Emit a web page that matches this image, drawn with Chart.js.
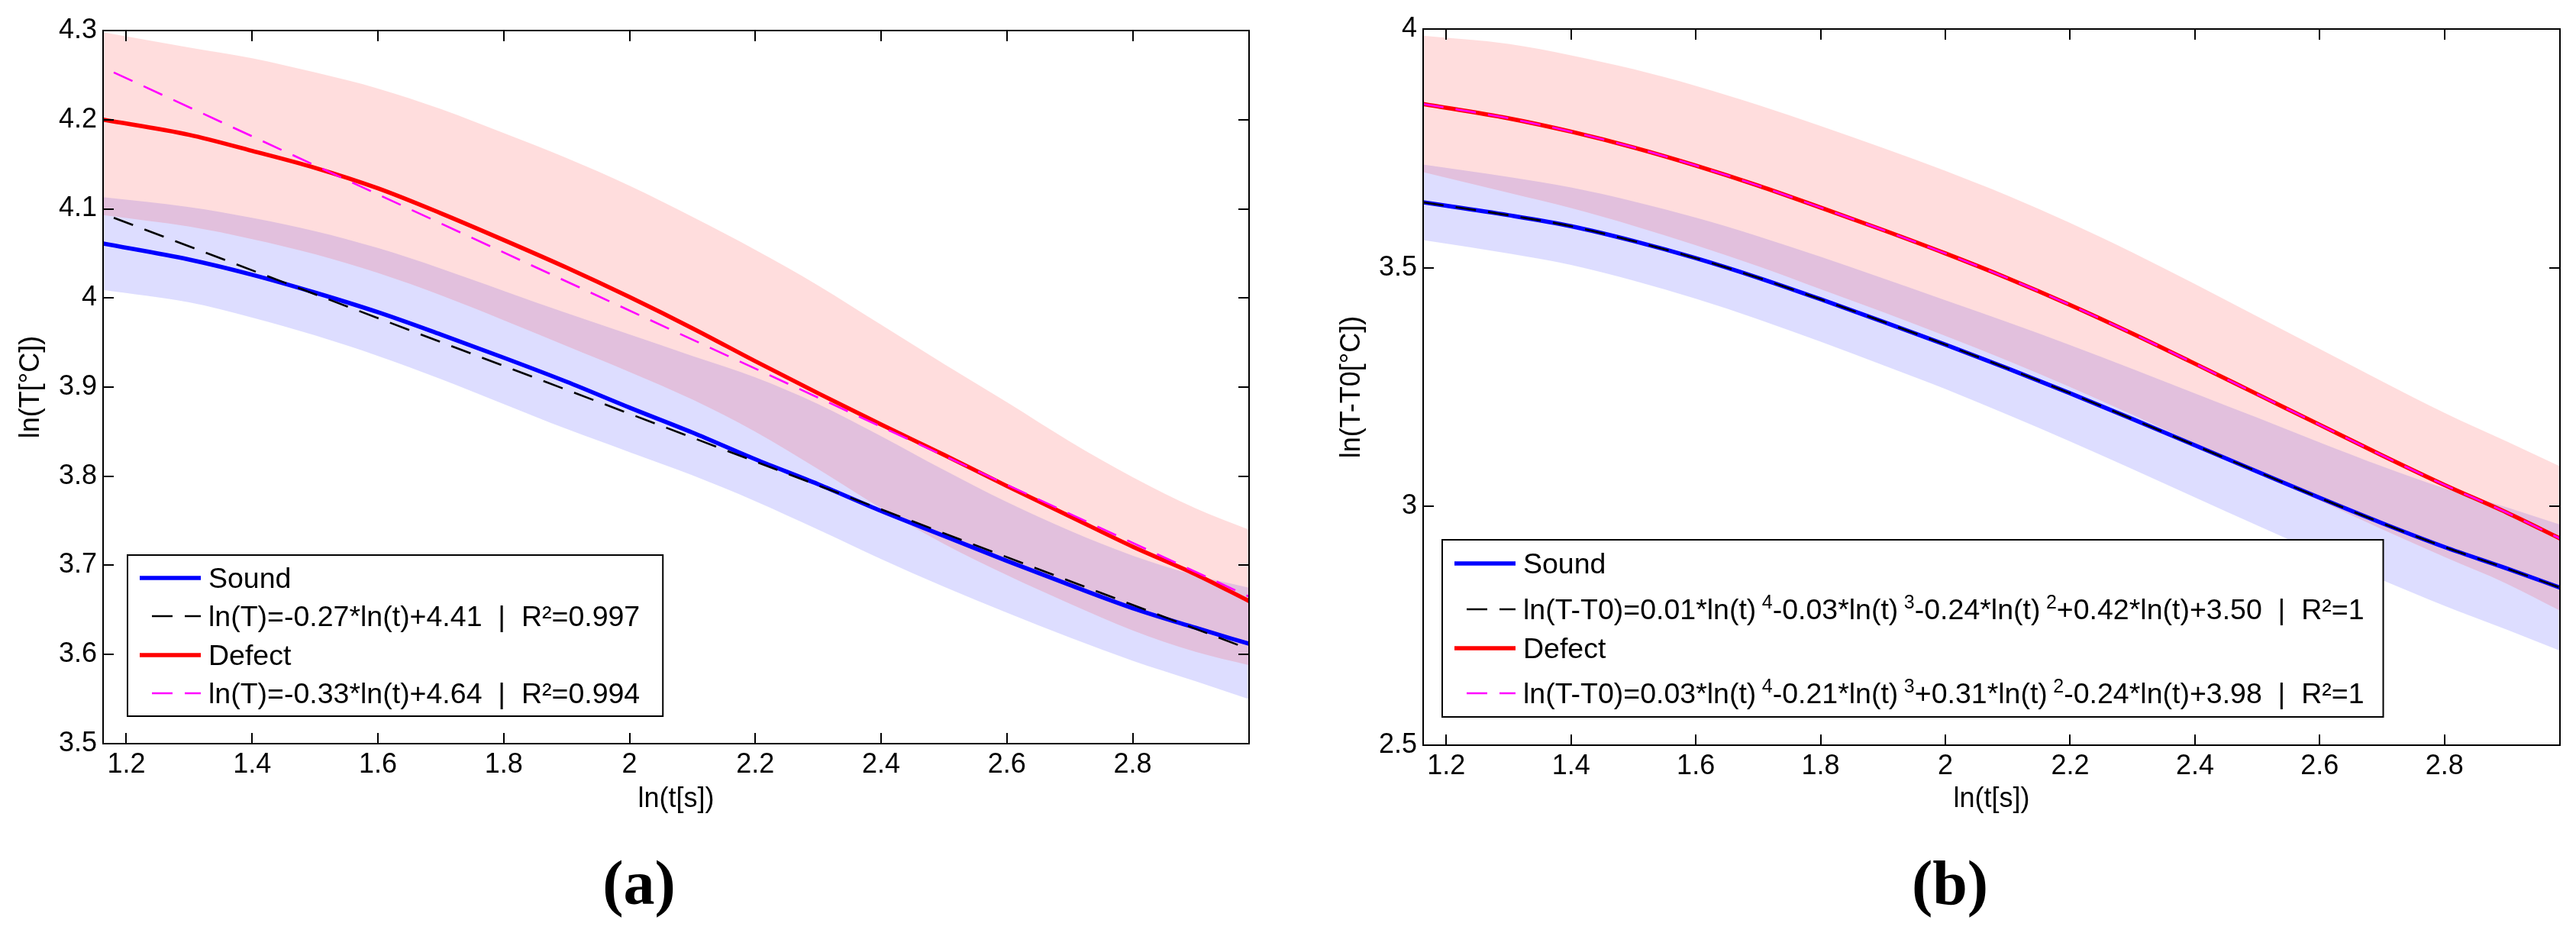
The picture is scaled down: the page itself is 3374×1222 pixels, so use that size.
<!DOCTYPE html>
<html>
<head>
<meta charset="utf-8">
<script src="https://cdn.jsdelivr.net/npm/chart.js@4.4.1/dist/chart.umd.min.js"></script>
<style>
  html, body { margin: 0; padding: 0; background: #fff; width: 3374px; height: 1222px; overflow: hidden; }
  canvas { position: absolute; top: 0; }
  #chart-a { left: 0; }
  #chart-b { left: 1690px; }
  .tag { position: absolute; top: 1157px; transform: translate(-50%, -50%); font: bold 82px "Liberation Serif", "Times New Roman", serif; color: #000; }
</style>
</head>
<body>
<canvas id="chart-a" width="1690" height="1222"></canvas>
<canvas id="chart-b" width="1684" height="1222"></canvas>
<div class="tag" style="left: 837px">(a)</div>
<div class="tag" style="left: 2554px">(b)</div>
<script>
const lnTime = [1.163, 1.3, 1.4, 1.5, 1.6, 1.7, 1.8, 1.9, 2.0, 2.1, 2.2, 2.3, 2.4, 2.5, 2.6, 2.7, 2.8, 2.9, 2.985]
const xTicks = [1.2, 1.4, 1.6, 1.8, 2, 2.2, 2.4, 2.6, 2.8]

// (a) ln(T)
const yTicksA = [3.5, 3.6, 3.7, 3.8, 3.9, 4, 4.1, 4.2, 4.3]
const soundA = [4.061, 4.043, 4.026, 4.006, 3.984, 3.959, 3.933, 3.906, 3.877, 3.849, 3.819, 3.791, 3.761, 3.733, 3.705, 3.678, 3.652, 3.630, 3.612]
const soundAHigh = [4.113, 4.102, 4.090, 4.075, 4.056, 4.033, 4.008, 3.983, 3.959, 3.935, 3.911, 3.881, 3.845, 3.807, 3.771, 3.739, 3.711, 3.689, 3.675]
const soundALow = [4.009, 3.995, 3.978, 3.958, 3.935, 3.909, 3.881, 3.853, 3.827, 3.801, 3.772, 3.740, 3.707, 3.676, 3.647, 3.619, 3.593, 3.570, 3.550]
const defectA = [4.200, 4.183, 4.165, 4.146, 4.123, 4.095, 4.065, 4.034, 4.001, 3.966, 3.929, 3.893, 3.858, 3.824, 3.789, 3.755, 3.721, 3.690, 3.660]
const defectAHigh = [4.298, 4.281, 4.269, 4.253, 4.235, 4.212, 4.185, 4.157, 4.126, 4.091, 4.054, 4.014, 3.970, 3.926, 3.883, 3.839, 3.799, 3.764, 3.740]
const defectALow = [4.093, 4.080, 4.066, 4.049, 4.028, 4.003, 3.975, 3.946, 3.917, 3.886, 3.850, 3.808, 3.764, 3.724, 3.689, 3.657, 3.627, 3.603, 3.588]
const fitTimeA = [1.18, 2.985]
const soundFitA = [4.090, 3.606]
const defectFitA = [4.253, 3.665]

// (b) ln(T-T0)
const yTicksB = [2.5, 3, 3.5, 4]
const soundB = [3.637, 3.610, 3.587, 3.556, 3.520, 3.479, 3.434, 3.387, 3.339, 3.289, 3.237, 3.183, 3.128, 3.073, 3.018, 2.965, 2.915, 2.870, 2.830]
const soundBHigh = [3.716, 3.690, 3.668, 3.639, 3.605, 3.566, 3.523, 3.478, 3.432, 3.386, 3.338, 3.288, 3.237, 3.186, 3.134, 3.084, 3.038, 2.998, 2.962]
const soundBLow = [3.558, 3.530, 3.506, 3.473, 3.435, 3.392, 3.345, 3.296, 3.246, 3.192, 3.136, 3.078, 3.019, 2.960, 2.902, 2.846, 2.792, 2.742, 2.698]
const defectB = [3.843, 3.813, 3.785, 3.752, 3.714, 3.672, 3.626, 3.579, 3.530, 3.478, 3.422, 3.362, 3.299, 3.235, 3.171, 3.107, 3.045, 2.987, 2.933]
const defectBHigh = [3.986, 3.969, 3.945, 3.916, 3.881, 3.841, 3.797, 3.751, 3.703, 3.651, 3.594, 3.532, 3.466, 3.398, 3.330, 3.262, 3.196, 3.136, 3.084]
const defectBLow = [3.700, 3.657, 3.625, 3.588, 3.547, 3.503, 3.455, 3.407, 3.357, 3.305, 3.250, 3.192, 3.132, 3.072, 3.012, 2.952, 2.894, 2.838, 2.782]
// the polynomial fits sit right on top of the measured curves
const soundFitB = soundB
const defectFitB = defectB

const labelsA = ['Sound', 'ln(T)=-0.27*ln(t)+4.41  |  R²=0.997', 'Defect', 'ln(T)=-0.33*ln(t)+4.64  |  R²=0.994']
const labelsB = ['Sound', 'ln(T-T0)=0.01*ln(t)^4-0.03*ln(t)^3-0.24*ln(t)^2+0.42*ln(t)+3.50  |  R²=1',
  'Defect', 'ln(T-T0)=0.03*ln(t)^4-0.21*ln(t)^3+0.31*ln(t)^2-0.24*ln(t)+3.98  |  R²=1']

const FONT = '"Liberation Sans", Arial, sans-serif'
Chart.defaults.font.family = FONT
Chart.defaults.font.size = 36
Chart.defaults.color = '#000'

const pts = (xs, ys) => xs.map((x, i) => ({ x, y: ys[i] }))
const fmt = v => String(+v.toFixed(2))

function drawRich (ctx, text, x, cy, size, draw) {
  const parts = text.split(/\^(\d)/)
  const base = cy + size * 0.35
  let cx = x
  ctx.fillStyle = '#000'
  ctx.textBaseline = 'alphabetic'
  ctx.textAlign = 'left'
  parts.forEach((p, i) => {
    const sup = i % 2 === 1
    ctx.font = (sup ? Math.round(size * 0.66) : size) + 'px ' + FONT
    if (sup) cx += size * 0.2
    if (draw) ctx.fillText(p, cx, sup ? base - size * 0.38 : base)
    cx += ctx.measureText(p).width
  })
  return cx - x
}

// legend box inside the plot, MATLAB style
const boxLegend = {
  id: 'boxLegend',
  afterDraw (chart, args, opts) {
    const { ctx, chartArea } = chart
    const items = opts.items.map(i => chart.data.datasets[i])
    ctx.save()
    const textW = Math.max(...items.map(ds => drawRich(ctx, ds.label, 0, 0, opts.size, false)))
    const w = 106 + textW + opts.padRight
    const left = chartArea.left + opts.left
    const top = chartArea.bottom - opts.bottom - opts.height
    ctx.fillStyle = '#fff'
    ctx.fillRect(left, top, w, opts.height)
    ctx.lineWidth = 2
    ctx.strokeStyle = '#000'
    ctx.strokeRect(left, top, w, opts.height)
    items.forEach((ds, k) => {
      const cy = top + opts.rows[k]
      const dash = ds.borderDash || []
      ctx.save()
      ctx.strokeStyle = ds.borderColor
      ctx.lineWidth = ds.borderWidth
      ctx.setLineDash(dash)
      ctx.lineDashOffset = dash.length ? dash[0] : 0
      ctx.beginPath()
      ctx.moveTo(left + 16, cy)
      ctx.lineTo(left + 96, cy)
      ctx.stroke()
      ctx.restore()
      drawRich(ctx, ds.label, left + 106, cy, opts.size, true)
    })
    ctx.restore()
  }
}

// box round the axes with inward ticks on all four sides
const frame = {
  id: 'frame',
  afterDatasetsDraw (chart) {
    const { ctx, chartArea: a, scales: { x, y } } = chart
    const len = 14
    ctx.save()
    ctx.strokeStyle = '#000'
    ctx.lineWidth = 2
    ctx.beginPath()
    x.ticks.forEach(t => {
      const p = Math.round(x.getPixelForValue(t.value))
      ctx.moveTo(p, a.bottom); ctx.lineTo(p, a.bottom - len)
      ctx.moveTo(p, a.top); ctx.lineTo(p, a.top + len)
    })
    y.ticks.forEach(t => {
      const p = Math.round(y.getPixelForValue(t.value))
      ctx.moveTo(a.left, p); ctx.lineTo(a.left + len, p)
      ctx.moveTo(a.right, p); ctx.lineTo(a.right - len, p)
    })
    ctx.stroke()
    ctx.strokeRect(a.left, a.top, a.right - a.left, a.bottom - a.top)
    ctx.restore()
  }
}

function bandSet (xs, lo, hi, color, order) {
  const common = { borderWidth: 0, pointRadius: 0, cubicInterpolationMode: 'monotone', backgroundColor: color, label: '' }
  return [
    { ...common, data: pts(xs, lo), fill: false, order: order + 1 },
    { ...common, data: pts(xs, hi), fill: '-1', order }
  ]
}

function lineSet (xs, ys, color, width, dash, label, order) {
  return { label, data: pts(xs, ys), borderColor: color, borderWidth: width, borderDash: dash, pointRadius: 0, fill: false, cubicInterpolationMode: 'monotone', order }
}

function makeChart (id, o) {
  const datasets = [
    ...bandSet(lnTime, o.soundLow, o.soundHigh, 'rgba(0, 0, 255, 0.135)', 30),
    ...bandSet(lnTime, o.defectLow, o.defectHigh, 'rgba(255, 0, 0, 0.133)', 20),
    lineSet(lnTime, o.sound, '#0000ff', 5.5, [], o.labels[0], 4),
    lineSet(o.fitX, o.soundFit, '#000000', 2.6, [27, 16], o.labels[1], 3),
    lineSet(lnTime, o.defect, '#ff0000', 5.5, [], o.labels[2], 2),
    lineSet(o.fitX, o.defectFit, '#ff00ff', 2.6, [27, 16], o.labels[3], 1)
  ]
  return new Chart(document.getElementById(id), {
    type: 'line',
    data: { datasets },
    options: {
      responsive: false,
      animation: false,
      devicePixelRatio: 1,
      layout: { padding: o.padding },
      plugins: {
        legend: { display: false },
        tooltip: { enabled: false },
        boxLegend: o.legend
      },
      scales: {
        x: {
          type: 'linear',
          min: 1.163,
          max: 2.985,
          afterFit: s => { s.height = o.xAxisHeight },
          afterBuildTicks: s => { s.ticks = xTicks.map(value => ({ value })) },
          grid: { display: false, drawTicks: false },
          border: { display: false },
          ticks: { padding: 6, autoSkip: false, maxRotation: 0, callback: fmt },
          title: { display: true, text: 'ln(t[s])', padding: { top: 0, bottom: 153 } }
        },
        y: {
          type: 'linear',
          min: o.yTicks[0],
          max: o.yTicks[o.yTicks.length - 1],
          afterFit: s => { s.width = o.yAxisWidth },
          afterBuildTicks: s => { s.ticks = o.yTicks.map(value => ({ value })) },
          grid: { display: false, drawTicks: false },
          border: { display: false },
          ticks: { padding: 8, callback: fmt },
          title: { display: true, text: o.yTitle, padding: { top: o.yTitlePad, bottom: 0 } }
        }
      }
    },
    plugins: [frame, boxLegend]
  })
}

makeChart('chart-a', {
  sound: soundA, soundLow: soundALow, soundHigh: soundAHigh,
  defect: defectA, defectLow: defectALow, defectHigh: defectAHigh,
  fitX: fitTimeA, soundFit: soundFitA, defectFit: defectFitA,
  labels: labelsA,
  yTicks: yTicksA,
  yTitle: 'ln(T[°C])',
  yTitlePad: 19,
  yAxisWidth: 135,
  xAxisHeight: 248,
  padding: { left: 0, top: 40, right: 54, bottom: 0 },
  legend: { items: [4, 5, 6, 7], size: 37.5, left: 32, bottom: 36, height: 211, rows: [30, 80, 131, 181], padRight: 30 }
})

makeChart('chart-b', {
  sound: soundB, soundLow: soundBLow, soundHigh: soundBHigh,
  defect: defectB, defectLow: defectBLow, defectHigh: defectBHigh,
  fitX: lnTime, soundFit: soundFitB, defectFit: defectFitB,
  labels: labelsB,
  yTicks: yTicksB,
  yTitle: 'ln(T-T0[°C])',
  yTitlePad: 59,
  yAxisWidth: 174,
  xAxisHeight: 246,
  padding: { left: 0, top: 38, right: 21, bottom: 0 },
  legend: { items: [4, 5, 6, 7], size: 37.5, left: 25, bottom: 37, height: 232, rows: [31, 91, 142, 201], padRight: 25 }
})
</script>
</body>
</html>
